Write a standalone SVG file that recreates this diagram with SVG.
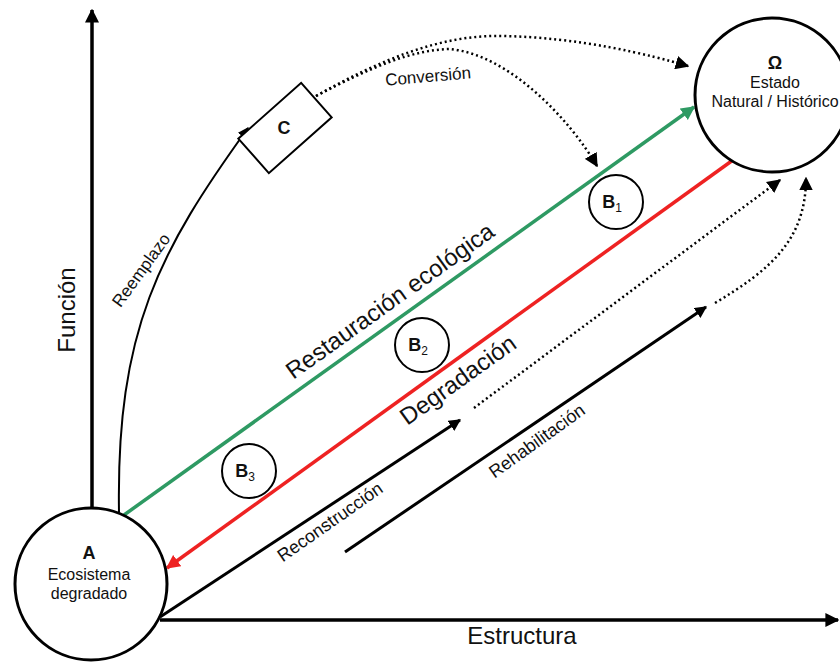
<svg xmlns="http://www.w3.org/2000/svg" width="840" height="670" viewBox="0 0 840 670">
<style>
text{font-family:"Liberation Sans",Arial,sans-serif;fill:#111}
.node{fill:#fff;stroke:#000;stroke-width:3}
.b{fill:#fff;stroke:#000;stroke-width:2}
.ax{stroke:#000;stroke-width:3.5;fill:none}
.solid{stroke:#000;stroke-width:3;fill:none}
.thin{stroke:#000;stroke-width:2;fill:none}
.dot{stroke:#000;stroke-width:2.5;fill:none;stroke-dasharray:2 3}
.big{font-size:24px}
.lab{font-size:17px}
.lab2{font-size:18px}
.mid{font-size:16px}
.bl{font-size:18px;font-weight:bold}
</style>
<defs>
<marker id="ah" viewBox="0 0 10 10" refX="9" refY="5" markerWidth="4" markerHeight="4" orient="auto" markerUnits="strokeWidth"><path d="M0,0L10,5L0,10z" fill="#000"/></marker>
<marker id="ahs" viewBox="0 0 10 10" refX="9" refY="5" markerWidth="5.5" markerHeight="5.5" orient="auto" markerUnits="strokeWidth"><path d="M0,0L10,5L0,10z" fill="#000"/></marker>
<marker id="ahg" viewBox="0 0 10 10" refX="9" refY="5" markerWidth="4" markerHeight="4" orient="auto" markerUnits="strokeWidth"><path d="M0,0L10,5L0,10z" fill="#2e9a63"/></marker>
<marker id="ahr" viewBox="0 0 10 10" refX="9" refY="5" markerWidth="4" markerHeight="4" orient="auto" markerUnits="strokeWidth"><path d="M0,0L10,5L0,10z" fill="#ee2222"/></marker>
</defs>
<g id="connectors">
<line class="ax" x1="92" y1="510" x2="92" y2="10" marker-end="url(#ah)"/>
<line class="ax" x1="160" y1="620" x2="838" y2="620" marker-end="url(#ah)"/>
<path class="thin" d="M119,512 C116,330 160,250 248,128" marker-end="url(#ahs)"/>
<path class="dot" d="M316,96 C380,60 440,35 500,36 C580,37 650,55 688,66" marker-end="url(#ahs)"/>
<path class="dot" d="M316,96 C370,68 410,50 450,49 C510,55 570,120 597,166" marker-end="url(#ahs)"/>
<line x1="124" y1="515" x2="694" y2="107" stroke="#2e9a63" stroke-width="3.5" marker-end="url(#ahg)"/>
<line x1="733" y1="160" x2="167" y2="568" stroke="#ee2222" stroke-width="3.5" marker-end="url(#ahr)"/>
<line class="solid" x1="160" y1="617" x2="460" y2="420" marker-end="url(#ah)"/>
<line class="dot" x1="474" y1="408" x2="780" y2="180" marker-end="url(#ahs)"/>
<line class="solid" x1="345" y1="552" x2="706" y2="307" marker-end="url(#ah)"/>
<path class="dot" d="M715,303 C770,270 806,240 806,178" marker-end="url(#ahs)"/>
</g>
<g id="labels">
<text class="big" transform="translate(67,310) rotate(-90)" text-anchor="middle" dy="8">Función</text>
<text class="big" x="522" y="644" text-anchor="middle">Estructura</text>
<text class="lab" transform="translate(141,270) rotate(-54)" text-anchor="middle" dy="6">Reemplazo</text>
<text class="lab" transform="translate(428,76) rotate(-5)" text-anchor="middle" dy="6">Conversión</text>
<text class="big" transform="translate(390,301) rotate(-35.6)" text-anchor="middle" dy="8">Restauración ecológica</text>
<text class="big" transform="translate(458,380) rotate(-35.6)" text-anchor="middle" dy="8">Degradación</text>
<text class="lab2" transform="translate(330,522) rotate(-35)" text-anchor="middle" dy="6">Reconstrucción</text>
<text class="lab2" transform="translate(537,441) rotate(-35.6)" text-anchor="middle" dy="6">Rehabilitación</text>
</g>
<g id="nodeA">
<circle class="node" cx="91" cy="584" r="76"/>
<text class="bl" x="89" y="559" text-anchor="middle">A</text>
<text class="mid" x="89" y="580" text-anchor="middle">Ecosistema</text>
<text class="mid" x="89" y="599" text-anchor="middle">degradado</text>
</g>
<g id="nodeOmega">
<circle class="node" cx="772" cy="95" r="77"/>
<text class="bl" x="775" y="69" text-anchor="middle">Ω</text>
<text class="mid" x="775" y="88" text-anchor="middle">Estado</text>
<text class="mid" x="775" y="107" text-anchor="middle">Natural / Histórico</text>
</g>
<g id="nodeC">
<rect class="b" x="-42" y="-23" width="84" height="46" transform="translate(285,128) rotate(-41.6)"/>
<text class="bl" x="284" y="134" text-anchor="middle">C</text>
</g>
<g id="nodeB1">
<circle class="b" cx="616" cy="202" r="27"/>
<text class="bl" x="612" y="208" text-anchor="middle">B<tspan font-size="12" font-weight="normal" dy="4">1</tspan></text>
</g>
<g id="nodeB2">
<circle class="b" cx="422" cy="345" r="27"/>
<text class="bl" x="418" y="351" text-anchor="middle">B<tspan font-size="12" font-weight="normal" dy="4">2</tspan></text>
</g>
<g id="nodeB3">
<circle class="b" cx="249" cy="471" r="27"/>
<text class="bl" x="245" y="477" text-anchor="middle">B<tspan font-size="12" font-weight="normal" dy="4">3</tspan></text>
</g>
</svg>
